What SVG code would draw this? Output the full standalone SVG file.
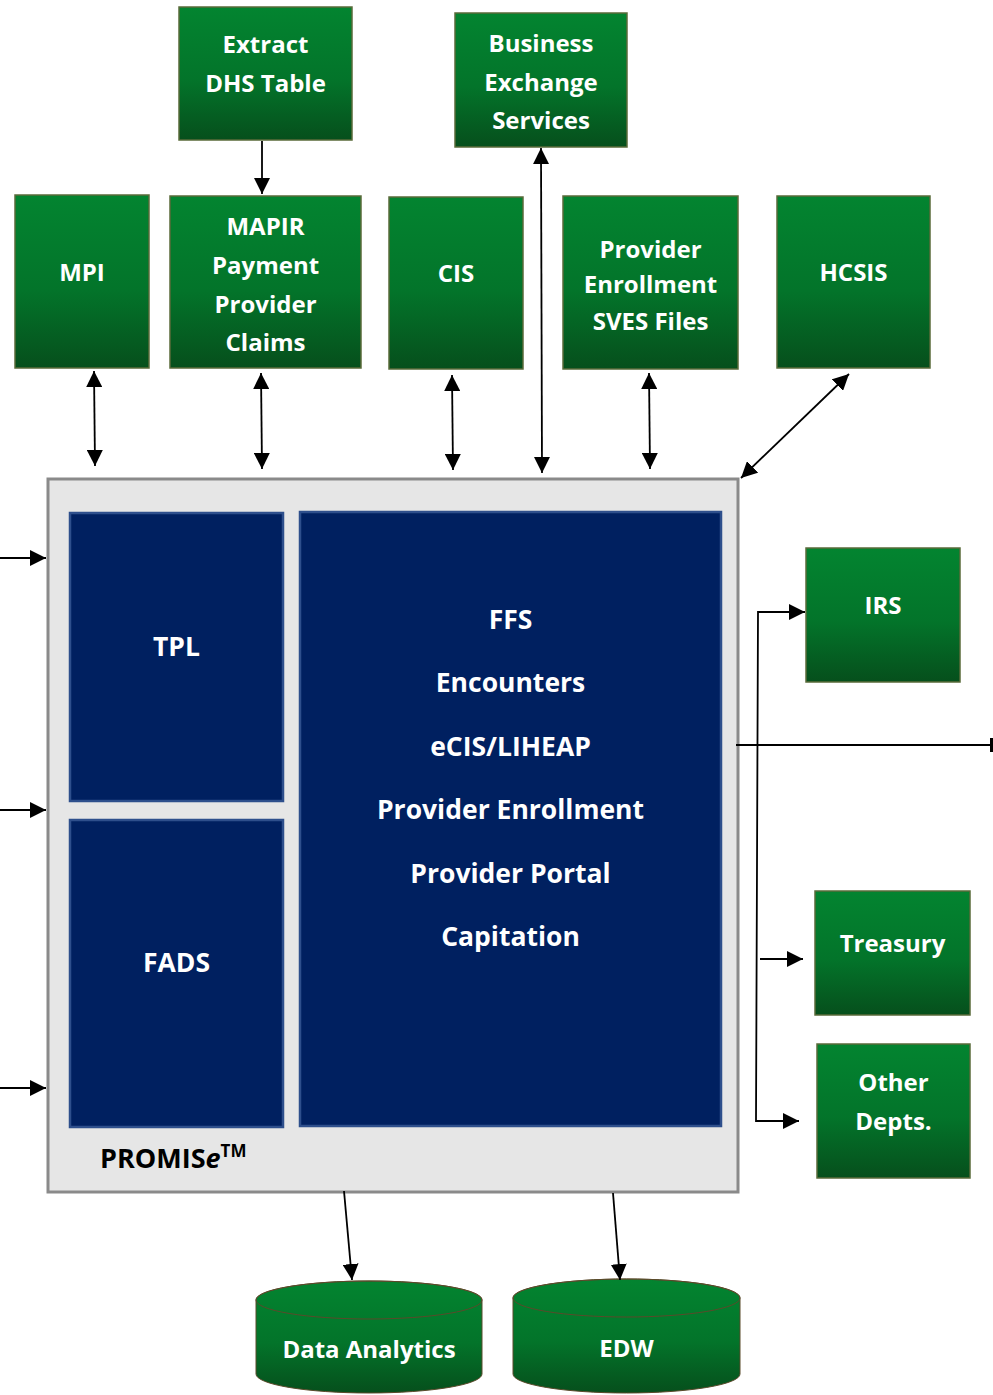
<svg xmlns="http://www.w3.org/2000/svg" width="993" height="1395" viewBox="0 0 993 1395">
<defs>
<linearGradient id="g" x1="0" y1="0" x2="0" y2="1">
<stop offset="0" stop-color="#038430"/>
<stop offset="0.55" stop-color="#03742a"/>
<stop offset="1" stop-color="#064f1c"/>
</linearGradient>
<marker id="ah" viewBox="0 0 16 16" refX="16" refY="8" markerWidth="16" markerHeight="16" markerUnits="userSpaceOnUse" orient="auto-start-reverse">
<path d="M0,0 L16,8 L0,16 z" fill="#000"/>
</marker>
</defs>
<style>
.box{fill:url(#g);stroke:#5a6b3a;stroke-width:1.5}
.t{font-family:"Open Sans","Noto Sans","Liberation Sans",sans-serif;font-weight:bold;font-size:24px;fill:#fff;text-anchor:middle;dominant-baseline:central}
.m{font-size:26.5px}
.blue{fill:#002060;stroke:#2e4f8c;stroke-width:2.5}
.c{stroke:#000;stroke-width:1.8;fill:none}
.a{marker-end:url(#ah)}
.b{marker-start:url(#ah);marker-end:url(#ah)}
</style>
<rect width="993" height="1395" fill="#fff"/>

<g id="extract"><rect class="box" x="179" y="7" width="173" height="133"/><text class="t" x="265.5" y="43">Extract</text><text class="t" x="265.5" y="82">DHS Table</text></g>
<g id="bes"><rect class="box" x="455" y="13" width="172" height="134"/><text class="t" x="541" y="42">Business</text><text class="t" x="541" y="81">Exchange</text><text class="t" x="541" y="119">Services</text></g>
<g id="mpi"><rect class="box" x="15" y="195" width="134" height="173"/><text class="t" x="82" y="271">MPI</text></g>
<g id="mapir"><rect class="box" x="170" y="196" width="191" height="172"/><text class="t" x="265.5" y="225">MAPIR</text><text class="t" x="265.5" y="264">Payment</text><text class="t" x="265.5" y="303">Provider</text><text class="t" x="265.5" y="341">Claims</text></g>
<g id="cis"><rect class="box" x="389" y="197" width="134" height="172"/><text class="t" x="456" y="272">CIS</text></g>
<g id="pe"><rect class="box" x="563" y="196" width="175" height="173"/><text class="t" x="650.5" y="248">Provider</text><text class="t" x="650.5" y="283">Enrollment</text><text class="t" x="650.5" y="320">SVES Files</text></g>
<g id="hcsis"><rect class="box" x="777" y="196" width="153" height="172"/><text class="t" x="853.5" y="271">HCSIS</text></g>

<g id="promise">
<rect x="48" y="479" width="690" height="713" fill="#e6e6e6" stroke="#8a8a8a" stroke-width="3"/>
<text x="100" y="1157" font-family="'Open Sans','Noto Sans','Liberation Sans',sans-serif" font-weight="bold" font-size="27" fill="#000" dominant-baseline="central">PROMIS<tspan font-style="italic">e</tspan><tspan font-size="17" dy="-7">TM</tspan></text>
</g>
<g id="tpl"><rect class="blue" x="70" y="513" width="213" height="288"/><text class="t m" x="176.5" y="646">TPL</text></g>
<g id="fads"><rect class="blue" x="70" y="820" width="213" height="307"/><text class="t m" x="176.5" y="962">FADS</text></g>
<g id="modules"><rect class="blue" x="300" y="512" width="421" height="614"/>
<text class="t m" x="510.5" y="619">FFS</text>
<text class="t m" x="510.5" y="682">Encounters</text>
<text class="t m" x="510.5" y="746">eCIS/LIHEAP</text>
<text class="t m" x="510.5" y="809">Provider Enrollment</text>
<text class="t m" x="510.5" y="873">Provider Portal</text>
<text class="t m" x="510.5" y="936">Capitation</text>
</g>

<g id="irs"><rect class="box" x="806" y="548" width="154" height="134"/><text class="t" x="883" y="604">IRS</text></g>
<g id="treasury"><rect class="box" x="815" y="891" width="155" height="124"/><text class="t" x="892.5" y="942">Treasury</text></g>
<g id="other"><rect class="box" x="817" y="1044" width="153" height="134"/><text class="t" x="893.5" y="1081">Other</text><text class="t" x="893.5" y="1120">Depts.</text></g>

<g id="analytics">
<path d="M256,1300 L256,1374 A113,19 0 0 0 482,1374 L482,1300 A113,19 0 0 0 256,1300 z" fill="url(#g)" stroke="#5a4a2a" stroke-width="1"/>
<ellipse cx="369" cy="1300" rx="113" ry="19" fill="none" stroke="#5a4a2a" stroke-width="1"/>
<text class="t" x="369" y="1348">Data Analytics</text>
</g>
<g id="edw">
<path d="M513,1298 L513,1374 A113.5,19 0 0 0 740,1374 L740,1298 A113.5,19 0 0 0 513,1298 z" fill="url(#g)" stroke="#5a4a2a" stroke-width="1"/>
<ellipse cx="626.5" cy="1298" rx="113.5" ry="19" fill="none" stroke="#5a4a2a" stroke-width="1"/>
<text class="t" x="626.5" y="1347">EDW</text>
</g>

<g id="connectors">
<line class="c a" x1="262" y1="141" x2="262" y2="194"/>
<line class="c b" x1="94" y1="371" x2="95" y2="466"/>
<line class="c b" x1="261" y1="373" x2="262" y2="469"/>
<line class="c b" x1="452" y1="375" x2="453" y2="470"/>
<line class="c b" x1="541" y1="148" x2="542" y2="473"/>
<line class="c b" x1="649" y1="373" x2="650" y2="469"/>
<line class="c b" x1="849" y1="374" x2="741" y2="478"/>
<line class="c a" x1="0" y1="558" x2="46" y2="558"/>
<line class="c a" x1="0" y1="810" x2="46" y2="810"/>
<line class="c a" x1="0" y1="1088" x2="46" y2="1088"/>
<line class="c" x1="736" y1="745" x2="993" y2="745"/>
<line x1="991.5" y1="738" x2="991.5" y2="752" stroke="#000" stroke-width="3"/>
<polyline class="c" points="760,612 758,612 756,1121 758,1121" stroke-width="2"/>
<line class="c a" x1="760" y1="612" x2="805" y2="612"/>
<line class="c a" x1="760" y1="959" x2="803" y2="959"/>
<line class="c a" x1="757" y1="1121" x2="799" y2="1121"/>
<line class="c a" x1="344" y1="1191" x2="352" y2="1280"/>
<line class="c a" x1="613" y1="1193" x2="620" y2="1280"/>
</g>
</svg>
